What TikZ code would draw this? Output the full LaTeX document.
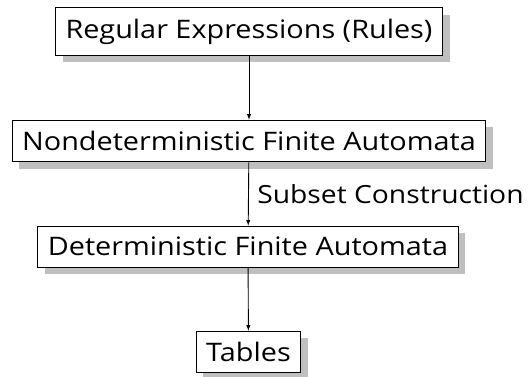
\documentclass[tikz,border=0pt]{standalone}
\usepackage{fontspec}
\setmainfont{Open Sans}[FakeStretch=1.13]
\usetikzlibrary{shadows}
\tikzset{basic/.style={draw,fill=white,line width=0.9pt,inner xsep=10pt,inner ysep=11pt,
                       font=\fontsize{25.5}{30}\selectfont,
                       drop shadow={shadow xshift=7pt,shadow yshift=-7pt,fill=black!25,opacity=1}}}
\tikzset{stage/.style={basic,rectangle}}
\tikzset{flow/.style={-latex,line width=0.9pt}}
\begin{document}
\begin{tikzpicture}[x=1pt,y=-1pt]
    \useasboundingbox (0,0) rectangle (530,377);

    % stages
    \node[stage] (rules) at (249,31.5) {Regular Expressions (Rules)};
    \node[stage] (nfa) at (249,141) {Nondeterministic Finite Automata};
    \node[stage] (dfa) at (248,246.5) {Deterministic Finite Automata};
    \node[stage] (tables) at (248.5,352) {Tables};

    % arrows
    \draw[flow] (rules) -- (nfa);
    \draw[flow] (nfa) -- node[right=5pt,font=\fontsize{25}{30}\selectfont] (subset) {Subset Construction} (dfa);
    \draw[flow] (dfa) -- (tables);
\end{tikzpicture}
\end{document}
